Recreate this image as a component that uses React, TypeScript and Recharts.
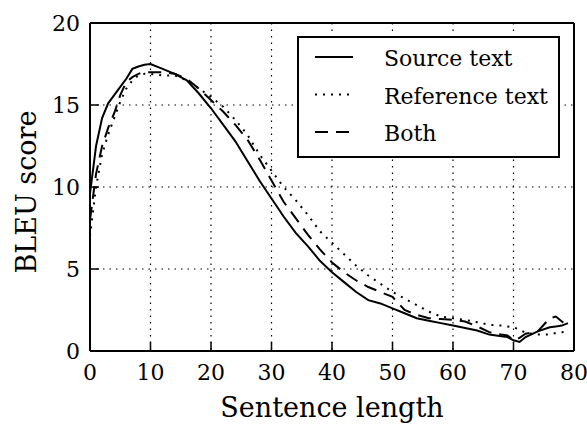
import React from "react"
import { CartesianGrid, Label, Legend, Line, LineChart, XAxis, YAxis } from "recharts"

const lengths = [0, 1, 2, 3, 4, 5, 6, 7, 8, 9, 10, 12, 14, 16, 18, 20, 22, 24, 26, 28, 30, 32, 34, 36, 38, 40, 42, 44, 46, 48, 50, 52, 54, 56, 58, 60, 62, 64, 66, 68, 69, 70, 71, 72, 74, 76, 77, 78, 79]

const sourceText = [9.6, 12.5, 14.2, 15.1, 15.6, 16.1, 16.6, 17.2, 17.35, 17.45, 17.5, 17.2, 16.9, 16.5, 15.7, 14.8, 13.8, 12.8, 11.6, 10.4, 9.3, 8.2, 7.2, 6.4, 5.5, 4.8, 4.2, 3.6, 3.1, 2.9, 2.6, 2.3, 2.0, 1.85, 1.7, 1.55, 1.4, 1.25, 1.0, 0.9, 0.85, 0.65, 0.55, 0.85, 1.2, 1.45, 1.5, 1.55, 1.7]

const referenceText = [7.0, 10.0, 12.0, 13.2, 14.2, 15.2, 16.0, 16.5, 16.8, 16.9, 16.9, 16.8, 16.8, 16.5, 16.0, 15.5, 14.9, 14.1, 13.2, 12.0, 11.0, 10.0, 9.2, 8.3, 7.3, 6.6, 5.9, 5.2, 4.6, 4.1, 3.6, 3.2, 2.8, 2.4, 2.1, 2.0, 1.9, 1.75, 1.6, 1.55, 1.5, 1.45, 1.3, 1.1, 1.0, 1.0, 1.1, 1.15, 1.2]

const both = [8.0, 10.8, 12.5, 13.6, 14.5, 15.6, 16.4, 16.7, 16.9, 17.0, 17.0, 17.0, 16.9, 16.6, 16.0, 15.3, 14.6, 13.8, 12.9, 11.7, 10.4, 9.1, 8.1, 7.1, 6.2, 5.4, 4.8, 4.3, 3.9, 3.6, 3.3, 2.5, 2.2, 2.0, 1.95, 1.9, 1.8, 1.5, 1.15, 1.0, 0.95, 0.65, 0.8, 1.05, 1.2, 2.0, 2.1, 1.8, 1.5]

const xTicks = [0, 10, 20, 30, 40, 50, 60, 70, 80]
const yTicks = [0, 5, 10, 15, 20]

const seriesNames = ["Source text", "Reference text", "Both"]

const data = lengths.map((x, i) => ({
  x,
  source: sourceText[i],
  reference: referenceText[i],
  both: both[i],
}))

const FONT = "DejaVu Serif"
const DOTTED = "2 6"
const DASHED = "13 8"

const tickStyle = { fontFamily: FONT, fontSize: 22, fill: "#000" }

function LegendBox() {
  const styles = [undefined, DOTTED, DASHED]
  return (
    <svg width={263} height={122} style={{ display: "block" }}>
      <rect x={1} y={1} width={261} height={120} fill="#fff" stroke="#000" strokeWidth={2} />
      {seriesNames.map((name, i) => {
        const y = 21 + i * 37.5
        return (
          <g key={name}>
            <line x1={18} x2={56} y1={y} y2={y} stroke="#000" strokeWidth={2} strokeDasharray={styles[i]} />
            <text x={87} y={y + 9} fontFamily={FONT} fontSize={22} fill="#000">
              {name}
            </text>
          </g>
        )
      })}
    </svg>
  )
}

export default function App() {
  return (
    <div style={{ position: "absolute", left: 0, top: 0, background: "#fff" }}>
      <LineChart width={587} height={426} data={data} margin={{ top: 22, right: 12, bottom: 0, left: 0 }}>
        <CartesianGrid stroke="#000" strokeDasharray="1.5 5" strokeWidth={1.2} />
        <XAxis
          dataKey="x"
          type="number"
          domain={[0, 80]}
          ticks={xTicks}
          height={75}
          tick={tickStyle}
          tickSize={-9}
          tickMargin={22}
          stroke="#000"
          axisLine={{ stroke: "#000", strokeWidth: 2 }}
          tickLine={{ stroke: "#000", strokeWidth: 1.5 }}
        >
          <Label
            content={() => (
              <text x={332} y={417} textAnchor="middle" fontFamily={FONT} fontSize={27} fill="#000">
                Sentence length
              </text>
            )}
          />
        </XAxis>
        <XAxis
          xAxisId="top"
          orientation="top"
          dataKey="x"
          type="number"
          domain={[0, 80]}
          ticks={xTicks}
          height={1}
          tick={false}
          tickSize={-9}
          axisLine={{ stroke: "#000", strokeWidth: 2 }}
          tickLine={{ stroke: "#000", strokeWidth: 1.5 }}
        />
        <YAxis
          type="number"
          domain={[0, 20]}
          ticks={yTicks}
          width={90}
          tick={tickStyle}
          tickSize={-9}
          tickMargin={19}
          axisLine={{ stroke: "#000", strokeWidth: 2 }}
          tickLine={{ stroke: "#000", strokeWidth: 1.5 }}
        >
          <Label
            content={() => (
              <text
                x={36}
                y={192}
                transform="rotate(-90 36 192)"
                textAnchor="middle"
                fontFamily={FONT}
                fontSize={27}
                fill="#000"
              >
                BLEU score
              </text>
            )}
          />
        </YAxis>
        <YAxis
          yAxisId="right"
          orientation="right"
          type="number"
          domain={[0, 20]}
          ticks={yTicks}
          width={1}
          tick={false}
          tickSize={-9}
          axisLine={{ stroke: "#000", strokeWidth: 2 }}
          tickLine={{ stroke: "#000", strokeWidth: 1.5 }}
        />
        <Legend
          layout="vertical"
          align="center"
          verticalAlign="middle"
          wrapperStyle={{ left: 297, top: 36, width: 263, height: 122 }}
          content={() => <LegendBox />}
        />
        <Line
          type="linear"
          dataKey="source"
          name={seriesNames[0]}
          stroke="#000"
          strokeWidth={2}
          dot={false}
          isAnimationActive={false}
        />
        <Line
          type="linear"
          dataKey="reference"
          name={seriesNames[1]}
          stroke="#000"
          strokeWidth={2}
          strokeDasharray={DOTTED}
          dot={false}
          isAnimationActive={false}
        />
        <Line
          type="linear"
          dataKey="both"
          name={seriesNames[2]}
          stroke="#000"
          strokeWidth={2}
          strokeDasharray={DASHED}
          dot={false}
          isAnimationActive={false}
        />
      </LineChart>
    </div>
  )
}
